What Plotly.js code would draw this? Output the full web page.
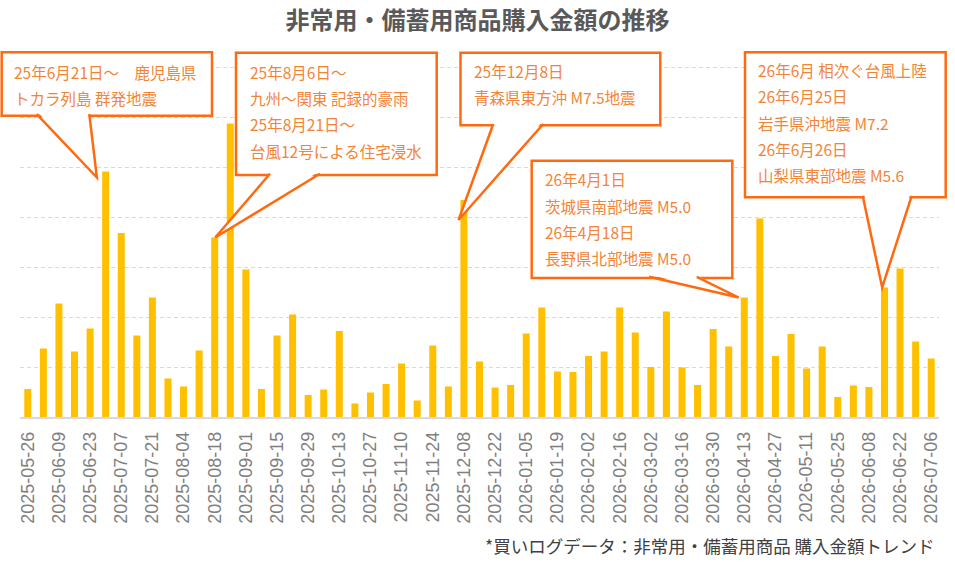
<!DOCTYPE html>
<html>
<head>
<meta charset="utf-8">
<script src="https://cdn.plot.ly/plotly-3.0.1.min.js"></script>
<style>html,body{margin:0;padding:0;background:#fff;}#chart{width:955px;height:568px;}</style>
</head>
<body>
<div id="chart"></div>
<script>
// ---- data ----
const weeks = [
 '2025-05-26','2025-06-02','2025-06-09','2025-06-16','2025-06-23','2025-06-30','2025-07-07','2025-07-14','2025-07-21','2025-07-28',
 '2025-08-04','2025-08-11','2025-08-18','2025-08-25','2025-09-01','2025-09-08','2025-09-15','2025-09-22','2025-09-29','2025-10-06',
 '2025-10-13','2025-10-20','2025-10-27','2025-11-03','2025-11-10','2025-11-17','2025-11-24','2025-12-01','2025-12-08','2025-12-15',
 '2025-12-22','2025-12-29','2026-01-05','2026-01-12','2026-01-19','2026-01-26','2026-02-02','2026-02-09','2026-02-16','2026-02-23',
 '2026-03-02','2026-03-09','2026-03-16','2026-03-23','2026-03-30','2026-04-06','2026-04-13','2026-04-20','2026-04-27','2026-05-04',
 '2026-05-11','2026-05-18','2026-05-25','2026-06-01','2026-06-08','2026-06-15','2026-06-22','2026-06-29','2026-07-06'
];
const purchaseAmount = [
 56,137,227,131,177,491,368,163,239,77,
 61,133,359,587,295,56,163,205,44,55,
 172,27,49,66,107,33,143,61,434,111,
 59,64,167,219,91,90,122,131,219,169,
 100,211,99,64,176,141,239,397,122,166,
 97,141,40,63,60,259,297,151,117
];
const tickLabels = [
 '2025-05-26','2025-06-09','2025-06-23','2025-07-07','2025-07-21','2025-08-04','2025-08-18','2025-09-01','2025-09-15','2025-09-29',
 '2025-10-13','2025-10-27','2025-11-10','2025-11-24','2025-12-08','2025-12-22','2026-01-05','2026-01-19','2026-02-02','2026-02-16',
 '2026-03-02','2026-03-16','2026-03-30','2026-04-13','2026-04-27','2026-05-11','2026-05-25','2026-06-08','2026-06-22','2026-07-06'
];
const eventWeeks = ['2025-06-30','2025-08-18','2025-12-08','2026-04-13','2026-06-15'];
const eventTexts = [
 ['25年6月21日～　鹿児島県','トカラ列島 群発地震'],
 ['25年8月6日～','九州～関東 記録的豪雨','25年8月21日～','台風12号による住宅浸水'],
 ['25年12月8日','青森県東方沖 M7.5地震'],
 ['26年4月1日','茨城県南部地震 M5.0','26年4月18日','長野県北部地震 M5.0'],
 ['26年6月 相次ぐ台風上陸','26年6月25日','岩手県沖地震 M7.2','26年6月26日','山梨県東部地震 M5.6']
];
const chartTitle = '非常用・備蓄用商品購入金額の推移';
const sourceNote = '*買いログデータ：非常用・備蓄用商品 購入金額トレンド';

// ---- layout geometry (pixels) ----
const W = 955, H = 568, ML = 20, MR = 16, MT = 40, MB = 151;
const PW = W - ML - MR, PH = H - MT - MB;
const px = x => (x - ML) / PW;
const py = y => (H - MB - y) / PH;

// callout styling: box [left, top, right, bottom], tail base x (abs px), tip offset from bar top (px, up positive), text
const calloutStyle = [
 {box:[1.7,52.3,212,115.7], base:[36.7,89.3], baseUp:56.3, tip:[-8.8,-6], tx:11.7, ty:71.7},
 {box:[236,52.7,436.7,175], base:[270,320], baseUp:62.7, tip:[0.5,0], tx:247.7, ty:71.7},
 {box:[460.5,52.7,660.3,125.3], base:[493.3,543.3], baseUp:75, tip:[-5.4,-20], tx:472, ty:70.7},
 {box:[531.7,160.7,732.3,278], base:[649,696.7], baseUp:19.7, tip:[-5.6,0], tx:542.7, ty:179.3},
 {box:[745,52.3,945.7,197.3], base:[862.7,911.7], baseUp:90.7, tip:[-2.3,0], tx:756, ty:70}
];
const lineGap = 26.3;
const ORANGE = '#FF6A10', TEXTOR = '#F28438';

const shapes = [], annotations = [];
eventWeeks.forEach((wk, i) => {
  const s = calloutStyle[i];
  const idx = weeks.indexOf(wk);
  const barX0 = ML + (idx + 0.5) * PW / weeks.length; // only to convert base px to offset
  shapes.push({type:'rect', xref:'paper', yref:'paper', layer:'above',
    x0:px(s.box[0]), x1:px(s.box[2]), y0:py(s.box[3]), y1:py(s.box[1]),
    fillcolor:'#ffffff', line:{color:ORANGE, width:2.5}});
  const bl = s.base[0] - barX0, br = s.base[1] - barX0;
  const common = {type:'path', xref:'x', yref:'y', xsizemode:'pixel', ysizemode:'pixel',
    xanchor: wk, yanchor: purchaseAmount[idx], layer:'above'};
  shapes.push(Object.assign({}, common, {
    path:`M ${bl+1.3},${s.baseUp+3} L ${s.tip[0]},${s.tip[1]} L ${br-1.3},${s.baseUp+3} Z`,
    fillcolor:'#ffffff', line:{width:0}}));
  shapes.push(Object.assign({}, common, {
    path:`M ${bl},${s.baseUp+1} L ${s.tip[0]},${s.tip[1]} L ${br},${s.baseUp+1}`,
    fillcolor:'rgba(0,0,0,0)', line:{color:ORANGE, width:2.5}}));
  eventTexts[i].forEach((t, j) => {
    annotations.push({xref:'paper', yref:'paper', x:px(s.tx), y:py(s.ty + j*lineGap),
      xanchor:'left', yanchor:'middle', showarrow:false, text:t,
      font:{family:'Noto Sans CJK JP, sans-serif', size:15.5, color:TEXTOR}});
  });
});
annotations.push({xref:'paper', yref:'paper', x:px(937), y:py(545), xanchor:'right', yanchor:'middle',
  showarrow:false, text:sourceNote, font:{family:'Noto Sans CJK JP, sans-serif', size:17.5, color:'#404040'}});

const data = [{
  type:'bar', x:weeks, y:purchaseAmount,
  marker:{color:'#FFC000'}, hoverinfo:'x+y'
}];

const layout = {
  width:W, height:H, margin:{l:ML, r:MR, t:MT, b:MB},
  paper_bgcolor:'#ffffff', plot_bgcolor:'#ffffff',
  showlegend:false, bargap:0.55,
  title:{text:chartTitle, x:0.5, xref:'container', xanchor:'center', y:1-21/H, yref:'container', yanchor:'middle',
    font:{family:'Noto Sans CJK JP, sans-serif', size:24, color:'#595959', weight:'bold'}},
  xaxis:{type:'category', tickmode:'array', tickvals:tickLabels, ticktext:tickLabels, tickangle:-90,
    tickfont:{family:'Liberation Sans, Arial, sans-serif', size:18, color:'#7f7f7f'},
    ticks:'', ticklabelstandoff:6, showline:true, linecolor:'#d9d9d9', linewidth:1.5, showgrid:false, zeroline:false,
    range:[-0.5, weeks.length-0.5]},
  yaxis:{range:[0,754], tick0:0, dtick:100, showticklabels:false, showgrid:true, gridcolor:'#d9d9d9',
    griddash:'4px,3px', gridwidth:1, zeroline:false, showline:false, ticks:''},
  shapes:shapes, annotations:annotations
};
Plotly.newPlot('chart', data, layout, {displayModeBar:false, staticPlot:true});
</script>
</body>
</html>
